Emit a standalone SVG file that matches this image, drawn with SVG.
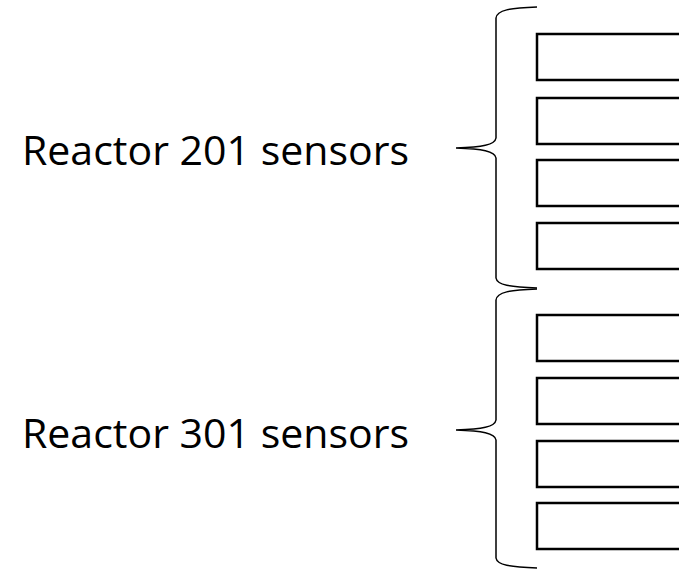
<svg xmlns="http://www.w3.org/2000/svg" width="679" height="569" viewBox="0 0 679 569">
  <style>
    .label { font-family: "Open Sans", "Noto Sans", "Liberation Sans", sans-serif; font-size: 41px; fill: #000; }
    .slot { fill: #fff; stroke: #000; stroke-width: 2.5; }
    .brace { fill: none; stroke: #000; stroke-width: 1.5; }
  </style>
  <rect width="679" height="569" fill="#fff"/>

  <g id="reactor-201-label">
    <text class="label" x="22" y="165" textLength="387" lengthAdjust="spacingAndGlyphs">Reactor 201 sensors</text>
  </g>
  <g id="reactor-301-label">
    <text class="label" x="22" y="448" textLength="387" lengthAdjust="spacingAndGlyphs">Reactor 301 sensors</text>
  </g>

  <g id="connectors">
    <path class="brace" d="M537,7 C510,8 497,10 496,18 L496,138 C495,145 482,147 456,148 C482,149 495,151 496,158 L496,278 C497,285 510,287 537,288"/>
    <path class="brace" d="M537,289 C510,290 497,292 496,300 L496,420 C495,427 482,429 456,430 C482,431 495,433 496,440 L496,558 C497,565 510,567 537,568"/>
  </g>

  <g id="sensor-201-1"><rect class="slot" x="537" y="34" width="160" height="46"/></g>
  <g id="sensor-201-2"><rect class="slot" x="537" y="98" width="160" height="46"/></g>
  <g id="sensor-201-3"><rect class="slot" x="537" y="160" width="160" height="46"/></g>
  <g id="sensor-201-4"><rect class="slot" x="537" y="223" width="160" height="46"/></g>

  <g id="sensor-301-1"><rect class="slot" x="537" y="315" width="160" height="46"/></g>
  <g id="sensor-301-2"><rect class="slot" x="537" y="378" width="160" height="46"/></g>
  <g id="sensor-301-3"><rect class="slot" x="537" y="441" width="160" height="46"/></g>
  <g id="sensor-301-4"><rect class="slot" x="537" y="503" width="160" height="46"/></g>
</svg>
